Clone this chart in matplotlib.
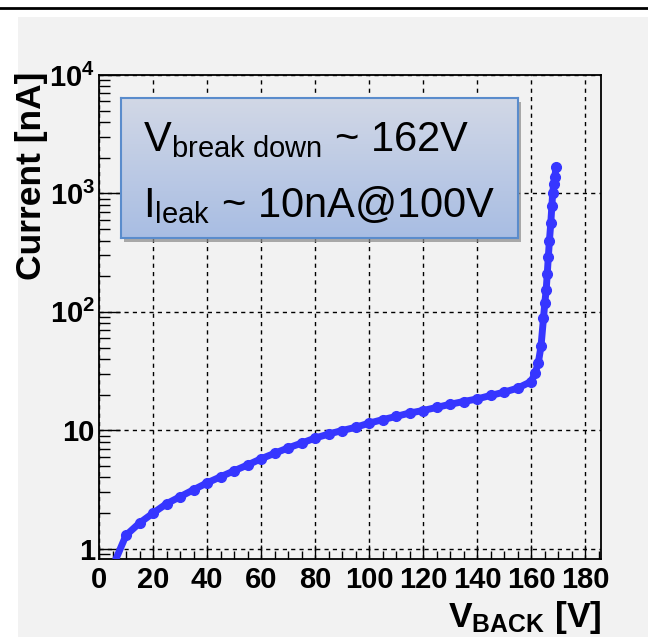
import matplotlib
matplotlib.use("Agg")
import matplotlib.pyplot as plt
import numpy as np
from matplotlib.patches import Rectangle
from matplotlib.ticker import FixedLocator, LogLocator, MultipleLocator, NullFormatter, FixedFormatter

plt.rcParams['font.family'] = ['Liberation Sans', 'DejaVu Sans']
plt.rcParams['mathtext.fontset'] = 'custom'
plt.rcParams['mathtext.rm'] = 'Liberation Sans'
plt.rcParams['mathtext.it'] = 'Liberation Sans:italic'
plt.rcParams['mathtext.bf'] = 'Liberation Sans:bold'

# ---- data ----
v_back = [5, 10, 15, 20, 25, 30, 35, 40, 45, 50, 55, 60, 65, 70, 75, 80, 85, 90, 95,
          100, 105, 110, 115, 120, 125, 130, 135, 140, 145, 150, 155, 160,
          161.5, 162.7, 163.7, 164.6, 165.1, 165.6, 166.0, 166.4, 166.8, 167.3,
          167.7, 168.0, 168.4, 168.8, 169.3]
current = [0.7, 1.3, 1.65, 2.0, 2.4, 2.75, 3.15, 3.6, 4.05, 4.55, 5.1, 5.75, 6.4, 7.1, 7.8,
           8.6, 9.3, 9.96, 10.6, 11.5, 12.3, 13.1, 14.0, 14.7, 15.6, 16.6, 17.5, 18.4,
           19.7, 21.0, 22.7, 25.8,
           30.4, 37.3, 51.6, 88.5, 120, 153, 210, 293, 400, 560,
           780, 1000, 1200, 1390, 1680]
x_ticks = [0, 20, 40, 60, 80, 100, 120, 140, 160, 180]
x_ticklabels = ['0', '20', '40', '60', '80', '100', '120', '140', '160', '180']
y_ticks = [1, 10, 100, 1000, 10000]
y_ticklabels = ['1', '10', r'$\mathbf{10^{2}}$', r'$\mathbf{10^{3}}$', r'$\mathbf{10^{4}}$']

W, H = 648, 639
fig = plt.figure(figsize=(W / 100, H / 100), dpi=100)
fig.patch.set_facecolor('white')

# panel background and top rule
fig.patches.append(Rectangle((18 / W, 2 / H), 1 - 18 / W, (H - 17 - 2) / H,
                             transform=fig.transFigure, facecolor='#f2f2f2',
                             edgecolor='none', zorder=-10))
fig.add_artist(plt.Line2D([0, 1], [1 - 7.5 / H, 1 - 7.5 / H], transform=fig.transFigure,
                          color='black', lw=2))

L, R, T, B = 99, 601, 75, 559
ax = fig.add_axes([L / W, 1 - B / H, (R - L) / W, (B - T) / H])
ax.set_facecolor('#f2f2f2')
ax.set_yscale('log')
ax.set_xlim(0, 185.9)
ax.set_ylim(0.82, 10000)

ax.plot(v_back, current, color='#3636ff', lw=5, marker='o', ms=7,
        solid_capstyle='round', solid_joinstyle='round', zorder=5, clip_on=True)

ax.xaxis.set_major_locator(FixedLocator(x_ticks))
ax.xaxis.set_major_formatter(FixedFormatter(x_ticklabels))
ax.xaxis.set_minor_locator(MultipleLocator(5))
ax.yaxis.set_major_locator(FixedLocator(y_ticks))
ax.yaxis.set_major_formatter(FixedFormatter(y_ticklabels))
ax.yaxis.set_minor_locator(LogLocator(base=10, subs=np.arange(2, 10)))
ax.yaxis.set_minor_formatter(NullFormatter())

ax.tick_params(axis='x', which='major', direction='in', length=10, width=1,
               labelsize=21, pad=5, top=False)
ax.tick_params(axis='x', which='minor', direction='in', length=6, width=1, top=False)
ax.tick_params(axis='y', which='major', direction='in', length=15, width=1,
               labelsize=21, pad=3, right=False)
ax.tick_params(axis='y', which='minor', direction='in', length=8, width=1, right=False)
for lab in ax.get_xticklabels() + ax.get_yticklabels():
    lab.set_fontweight('bold')

ax.grid(True, which='major', color='black', lw=1, linestyle=(0, (3, 3)))
for s in ax.spines.values():
    s.set_linewidth(1.3)

# axis titles
fig.text(31.5 / W, 1 - 176 / H, 'Current [nA]', rotation=90, ha='center', va='center',
         fontsize=25.5, fontweight='bold')
fig.text(601 / W, 1 - 627 / H, r'$\mathbf{V_{BACK}}$ [V]', ha='right', va='baseline',
         fontsize=25.5, fontweight='bold')

# annotation box with gradient
bx0, bx1, by0, by1 = 121, 518, 98, 238
sh = Rectangle((bx0 / W + 3 / W, 1 - (by1 + 4) / H), (bx1 - bx0) / W, (by1 - by0) / H,
               transform=fig.transFigure, facecolor='#8f8f8f', edgecolor='none',
               zorder=6, alpha=0.75)
fig.add_artist(sh)
grad = np.linspace(0, 1, 256).reshape(-1, 1)
top_c = np.array([0xd2, 0xd8, 0xe6]) / 255
bot_c = np.array([0xa8, 0xbd, 0xe3]) / 255
img = top_c[None, None, :] * (1 - grad[:, :, None]) + bot_c[None, None, :] * grad[:, :, None]
bax = fig.add_axes([bx0 / W, 1 - by1 / H, (bx1 - bx0) / W, (by1 - by0) / H], zorder=7)
bax.imshow(img, aspect='auto', extent=[0, 1, 0, 1])
bax.set_xticks([]); bax.set_yticks([])
for s in bax.spines.values():
    s.set_color('#5a8ccc'); s.set_linewidth(1.5)
bw, bh = bx1 - bx0, by1 - by0
bax.text(22 / bw, 1 - (151 - by0) / bh,
         r'V$_{\mathrm{break\ down}}$ ~ 162V', transform=bax.transAxes,
         fontsize=30, va='baseline', ha='left')
bax.text(22 / bw, 1 - (217 - by0) / bh,
         r'I$_{\mathrm{leak}}$ ~ 10nA@100V', transform=bax.transAxes,
         fontsize=30, va='baseline', ha='left')

fig.savefig('out.png', dpi=100, facecolor=fig.get_facecolor())
